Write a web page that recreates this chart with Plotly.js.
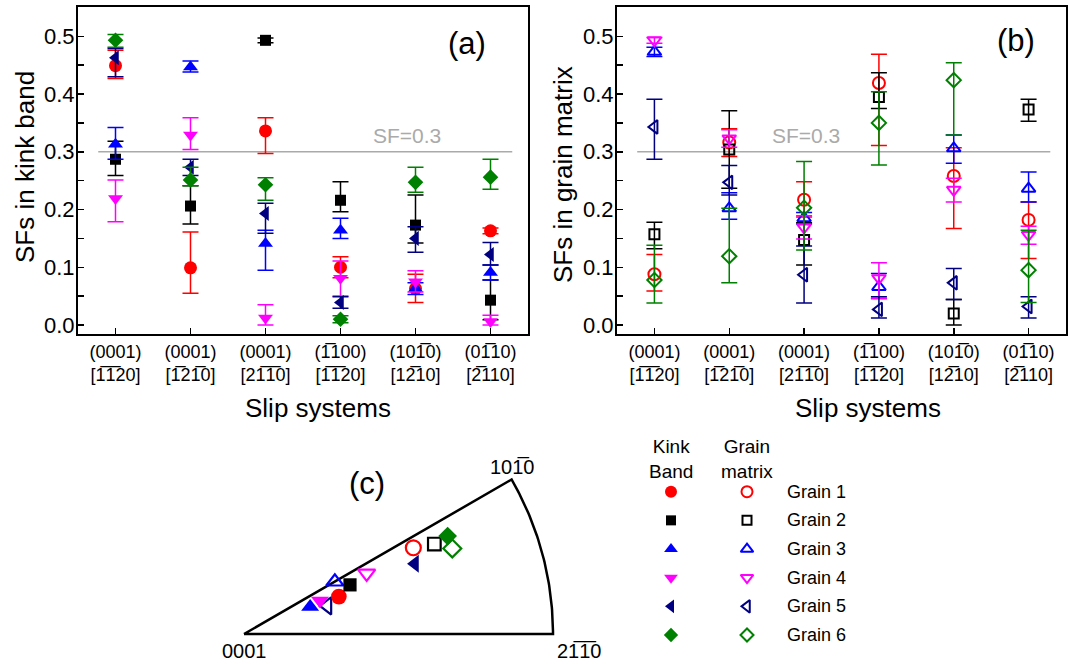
<!DOCTYPE html>
<html>
<head>
<meta charset="utf-8">
<script src="https://cdn.plot.ly/plotly-3.0.1.min.js"></script>
<style>html,body{margin:0;padding:0;background:#fff;}#chart{width:1070px;height:664px;}</style>
</head>
<body>
<div id="chart"></div>
<script>
// ---------------- DATA ----------------
const OB = '\u0305'; // combining overline
const slipPlanes = ['(0001)', '(0001)', '(0001)', '(1' + OB + '100)', '(101' + OB + '0)', '(01' + OB + '10)'];
const slipDirs = ['[1' + OB + '1' + OB + '20]', '[1' + OB + '21' + OB + '0]', '[21' + OB + '1' + OB + '0]',
                  '[1' + OB + '1' + OB + '20]', '[12' + OB + '10]', '[2' + OB + '110]'];
const slipIndex = [1, 2, 3, 4, 5, 6];
const grains = ['Grain 1', 'Grain 2', 'Grain 3', 'Grain 4', 'Grain 5', 'Grain 6'];

// (a) Schmid factors in kink band, per grain (rows) and slip system (columns)
const kinkSF = [
  [0.449, 0.099, 0.336, 0.100, 0.063, 0.163],
  [0.287, 0.206, 0.493, 0.216, 0.173, 0.043],
  [0.313, 0.447, 0.141, 0.164, 0.063, 0.091],
  [0.219, 0.329, 0.012, 0.081, 0.075, 0.006],
  [0.463, 0.273, 0.193, 0.039, 0.150, 0.122],
  [0.493, 0.251, 0.243, 0.010, 0.247, 0.256]
];
const kinkErrPlus = [
  [0.027, 0.062, 0.023, 0.018, 0.025, 0.005],
  [0.031, 0.035, 0.004, 0.032, 0.052, 0.035],
  [0.029, 0.010, 0.023, 0.021, 0.010, 0.013],
  [0.032, 0.030, 0.023, 0.030, 0.019, 0.011],
  [0.016, 0.014, 0.018, 0.010, 0.020, 0.021],
  [0.010, 0.022, 0.012, 0.006, 0.026, 0.031]
];
const kinkErrMinus = [
  [0.022, 0.044, 0.039, 0.018, 0.024, 0.005],
  [0.028, 0.031, 0.004, 0.020, 0.031, 0.034],
  [0.026, 0.009, 0.046, 0.014, 0.010, 0.013],
  [0.040, 0.025, 0.012, 0.031, 0.018, 0.006],
  [0.033, 0.014, 0.034, 0.010, 0.024, 0.018],
  [0.012, 0.010, 0.027, 0.006, 0.017, 0.021]
];

// (b) Schmid factors in grain matrix
const matrixSF = [
  [0.088, 0.316, 0.217, 0.419, 0.258, 0.182],
  [0.157, 0.304, 0.147, 0.395, 0.020, 0.373],
  [0.473, 0.202, 0.185, 0.066, 0.306, 0.236],
  [0.493, 0.323, 0.169, 0.081, 0.234, 0.156],
  [0.343, 0.247, 0.087, 0.027, 0.073, 0.032],
  [0.078, 0.119, 0.203, 0.350, 0.424, 0.095]
];
const matrixErrPlus = [
  [0.034, 0.024, 0.031, 0.050, 0.049, 0.031],
  [0.021, 0.067, 0.030, 0.042, 0.024, 0.018],
  [0.008, 0.027, 0.010, 0.023, 0.023, 0.029],
  [0.005, 0.015, 0.020, 0.027, 0.020, 0.015],
  [0.048, 0.029, 0.050, 0.022, 0.025, 0.017],
  [0.060, 0.083, 0.080, 0.054, 0.030, 0.069]
];
const matrixErrMinus = [
  [0.029, 0.024, 0.030, 0.108, 0.091, 0.067],
  [0.025, 0.067, 0.043, 0.020, 0.020, 0.020],
  [0.008, 0.019, 0.010, 0.020, 0.026, 0.023],
  [0.005, 0.015, 0.020, 0.035, 0.021, 0.016],
  [0.056, 0.022, 0.049, 0.015, 0.029, 0.020],
  [0.040, 0.046, 0.073, 0.073, 0.095, 0.056]
];

// (c) inverse pole figure positions (sector radius = 1, 0001 at origin)
const ipfKinkX = [0.307, 0.343, 0.214, 0.246, 0.553, 0.659];
const ipfKinkY = [0.121, 0.159, 0.088, 0.108, 0.227, 0.317];
const ipfMatrixX = [0.548, 0.616, 0.294, 0.397, 0.270, 0.674];
const ipfMatrixY = [0.279, 0.291, 0.169, 0.196, 0.091, 0.277];

const sfThreshold = 0.3;

// ---------------- STYLE ----------------
const W = 1070, H = 664;
const FONT = 'Arial, "Liberation Sans", sans-serif';
const colors = ['#ff0000', '#000000', '#0000ff', '#ff00ff', '#000080', '#008000'];
const symbols = ['circle', 'square', 'triangle-up', 'triangle-down', 'triangle-left', 'diamond'];
const sizes = [13, 11, 13, 13, 13, 12];
const px = v => v / W, py = v => 1 - v / H;

const traces = [];
function errObj(plus, minus, c) {
  return {type: 'data', symmetric: false, array: plus, arrayminus: minus,
          color: c, thickness: 1.5, width: 8};
}
for (let g = 0; g < grains.length; g++) {
  traces.push({
    type: 'scatter', mode: 'markers', xaxis: 'x', yaxis: 'y', showlegend: false,
    x: slipIndex, y: kinkSF[g], name: grains[g],
    error_y: errObj(kinkErrPlus[g], kinkErrMinus[g], colors[g]),
    marker: {symbol: symbols[g], color: colors[g], size: sizes[g], line: {width: 0}}
  });
}
for (let g = 0; g < grains.length; g++) {
  traces.push({
    type: 'scatter', mode: 'markers', xaxis: 'x2', yaxis: 'y2', showlegend: false,
    x: slipIndex, y: matrixSF[g], name: grains[g],
    error_y: errObj(matrixErrPlus[g], matrixErrMinus[g], colors[g]),
    marker: {symbol: symbols[g] + '-open', color: colors[g], size: sizes[g] - 1, line: {width: 2, color: colors[g]}}
  });
}

// IPF sector outline (30 degree sector)
const sx = [0], sy = [0];
for (let i = 0; i <= 60; i++) {
  const a = (i / 60) * Math.PI / 6;
  sx.push(Math.cos(a)); sy.push(Math.sin(a));
}
sx.push(0); sy.push(0);
traces.push({type: 'scatter', mode: 'lines', xaxis: 'x3', yaxis: 'y3', showlegend: false,
  x: sx, y: sy, line: {color: '#000', width: 2.5}, hoverinfo: 'skip'});
for (let g = 0; g < grains.length; g++) {
  traces.push({
    type: 'scatter', mode: 'markers', xaxis: 'x3', yaxis: 'y3', showlegend: false,
    x: [ipfMatrixX[g]], y: [ipfMatrixY[g]], name: grains[g],
    marker: {symbol: symbols[g] + '-open', color: colors[g], size: sizes[g] * 1.15, line: {width: 2.2, color: colors[g]}}
  });
}
for (let g = 0; g < grains.length; g++) {
  traces.push({
    type: 'scatter', mode: 'markers', xaxis: 'x3', yaxis: 'y3', showlegend: false,
    x: [ipfKinkX[g]], y: [ipfKinkY[g]], name: grains[g],
    marker: {symbol: symbols[g], color: colors[g], size: sizes[g] * 1.2, line: {width: 0}}
  });
}

// Manual legend
for (let g = 0; g < grains.length; g++) {
  traces.push({
    type: 'scatter', mode: 'markers', xaxis: 'x4', yaxis: 'y4', showlegend: false,
    x: [0], y: [g + 1], marker: {symbol: symbols[g], color: colors[g], size: sizes[g] - 1, line: {width: 0}}
  });
  traces.push({
    type: 'scatter', mode: 'markers', xaxis: 'x4', yaxis: 'y4', showlegend: false,
    x: [1], y: [g + 1], marker: {symbol: symbols[g] + '-open', color: colors[g], size: sizes[g] - 2, line: {width: 2, color: colors[g]}}
  });
}

const ticktext = slipPlanes.map((p, i) => p + '<br>' + slipDirs[i]);

function xAx(d0, d1, anchor) {
  return {domain: [px(d0), px(d1)], range: [0.5, 6.5], anchor: anchor,
    tickmode: 'array', tickvals: slipIndex, ticktext: ticktext,
    ticks: 'inside', ticklen: 6, tickwidth: 1.5, tickcolor: '#000',
    showline: true, mirror: true, linewidth: 2, linecolor: '#000',
    showgrid: false, zeroline: false,
    tickfont: {family: FONT, size: 18, color: '#000'}};
}
function yAx(anchor) {
  return {domain: [py(334), py(7)], range: [-0.0156, 0.5507], anchor: anchor,
    tick0: 0, dtick: 0.1, tickformat: '.1f',
    ticks: 'inside', ticklen: 6, tickwidth: 1.5, tickcolor: '#000',
    minor: {dtick: 0.05, ticks: 'inside', ticklen: 6, tickwidth: 1.5, tickcolor: '#000', showgrid: false},
    showline: true, mirror: true, linewidth: 2, linecolor: '#000',
    showgrid: false, zeroline: false, ticklabelstandoff: -3,
    tickfont: {family: FONT, size: 22, color: '#000'}};
}

const ipfR = 309, ipfOx = 244, ipfOy = 634;
const legUx = 76, legOx = 671, legUy = 28.66, legOy = 491.7;

const layout = {
  width: W, height: H, autosize: false,
  margin: {l: 0, r: 0, t: 0, b: 0, pad: 0},
  paper_bgcolor: '#fff', plot_bgcolor: 'rgba(0,0,0,0)',
  font: {family: FONT, color: '#000'},
  xaxis: xAx(78, 528, 'y'),
  yaxis: yAx('x'),
  xaxis2: xAx(617, 1066, 'y2'),
  yaxis2: yAx('x2'),
  xaxis3: {domain: [px(220), px(600)], range: [(220 - ipfOx) / ipfR, (600 - ipfOx) / ipfR], anchor: 'y3', visible: false},
  yaxis3: {domain: [py(664), py(440)], range: [(ipfOy - 664) / ipfR, (ipfOy - 440) / ipfR], anchor: 'x3', visible: false},
  xaxis4: {domain: [px(630), px(900)], range: [(630 - legOx) / legUx, (900 - legOx) / legUx], anchor: 'y4', visible: false},
  yaxis4: {domain: [py(664), py(430)], range: [1 + (664 - legOy) / legUy, 1 + (430 - legOy) / legUy], anchor: 'x4', visible: false},
  shapes: [
    {type: 'line', xref: 'x', yref: 'y', x0: 0.77, x1: 6.29, y0: sfThreshold, y1: sfThreshold, line: {color: '#aaaaaa', width: 1.5}, layer: 'below'},
    {type: 'line', xref: 'x2', yref: 'y2', x0: 0.77, x1: 6.29, y0: sfThreshold, y1: sfThreshold, line: {color: '#aaaaaa', width: 1.5}, layer: 'below'}
  ],
  annotations: []
};

const A = layout.annotations;
function ann(o) {
  A.push(Object.assign({showarrow: false, xanchor: 'center', yanchor: 'middle',
    font: {family: FONT, size: 18, color: '#000'}}, o));
}
ann({xref: 'x', yref: 'y', x: 4.887, y: 0.329, text: 'SF=0.3', font: {family: FONT, size: 21, color: '#aaaaaa'}});
ann({xref: 'x2', yref: 'y2', x: 3.03, y: 0.329, text: 'SF=0.3', font: {family: FONT, size: 21, color: '#aaaaaa'}});
ann({xref: 'x', yref: 'y', x: 5.687, y: 0.488, text: '(a)', font: {family: FONT, size: 31, color: '#000'}});
ann({xref: 'x2', yref: 'y2', x: 5.83, y: 0.493, text: '(b)', font: {family: FONT, size: 31, color: '#000'}});
ann({xref: 'paper', yref: 'paper', x: px(25), y: py(167), text: 'SFs in kink band', textangle: -90, font: {family: FONT, size: 26, color: '#000'}});
ann({xref: 'paper', yref: 'paper', x: px(563), y: py(175), text: 'SFs in grain matrix', textangle: -90, font: {family: FONT, size: 26, color: '#000'}});
ann({xref: 'paper', yref: 'paper', x: px(318), y: py(408), text: 'Slip systems', font: {family: FONT, size: 26, color: '#000'}});
ann({xref: 'paper', yref: 'paper', x: px(868), y: py(408), text: 'Slip systems', font: {family: FONT, size: 26, color: '#000'}});
// IPF labels
ann({xref: 'x3', yref: 'y3', x: (367 - ipfOx) / ipfR, y: (ipfOy - 483) / ipfR, text: '(c)', font: {family: FONT, size: 31, color: '#000'}});
ann({xref: 'x3', yref: 'y3', x: 0, y: -0.055, text: '0001', font: {family: FONT, size: 20, color: '#000'}});
ann({xref: 'x3', yref: 'y3', x: 1.087, y: -0.055, text: '21' + OB + '1' + OB + '0', font: {family: FONT, size: 20, color: '#000'}});
ann({xref: 'x3', yref: 'y3', x: 0.87, y: 0.54, text: '101' + OB + '0', font: {family: FONT, size: 20, color: '#000'}});
// legend labels
ann({xref: 'x4', yref: 'y4', x: 0, y: -0.14, text: 'Kink<br>Band', font: {family: FONT, size: 19, color: '#000'}});
ann({xref: 'x4', yref: 'y4', x: 1, y: -0.14, text: 'Grain<br>matrix', font: {family: FONT, size: 19, color: '#000'}});
for (let g = 0; g < grains.length; g++) {
  ann({xref: 'x4', yref: 'y4', x: 1.5, y: g + 1, xanchor: 'left', text: grains[g], font: {family: FONT, size: 18, color: '#000'}});
}

Plotly.newPlot('chart', traces, layout, {displayModeBar: false, staticPlot: true});
</script>
</body>
</html>
